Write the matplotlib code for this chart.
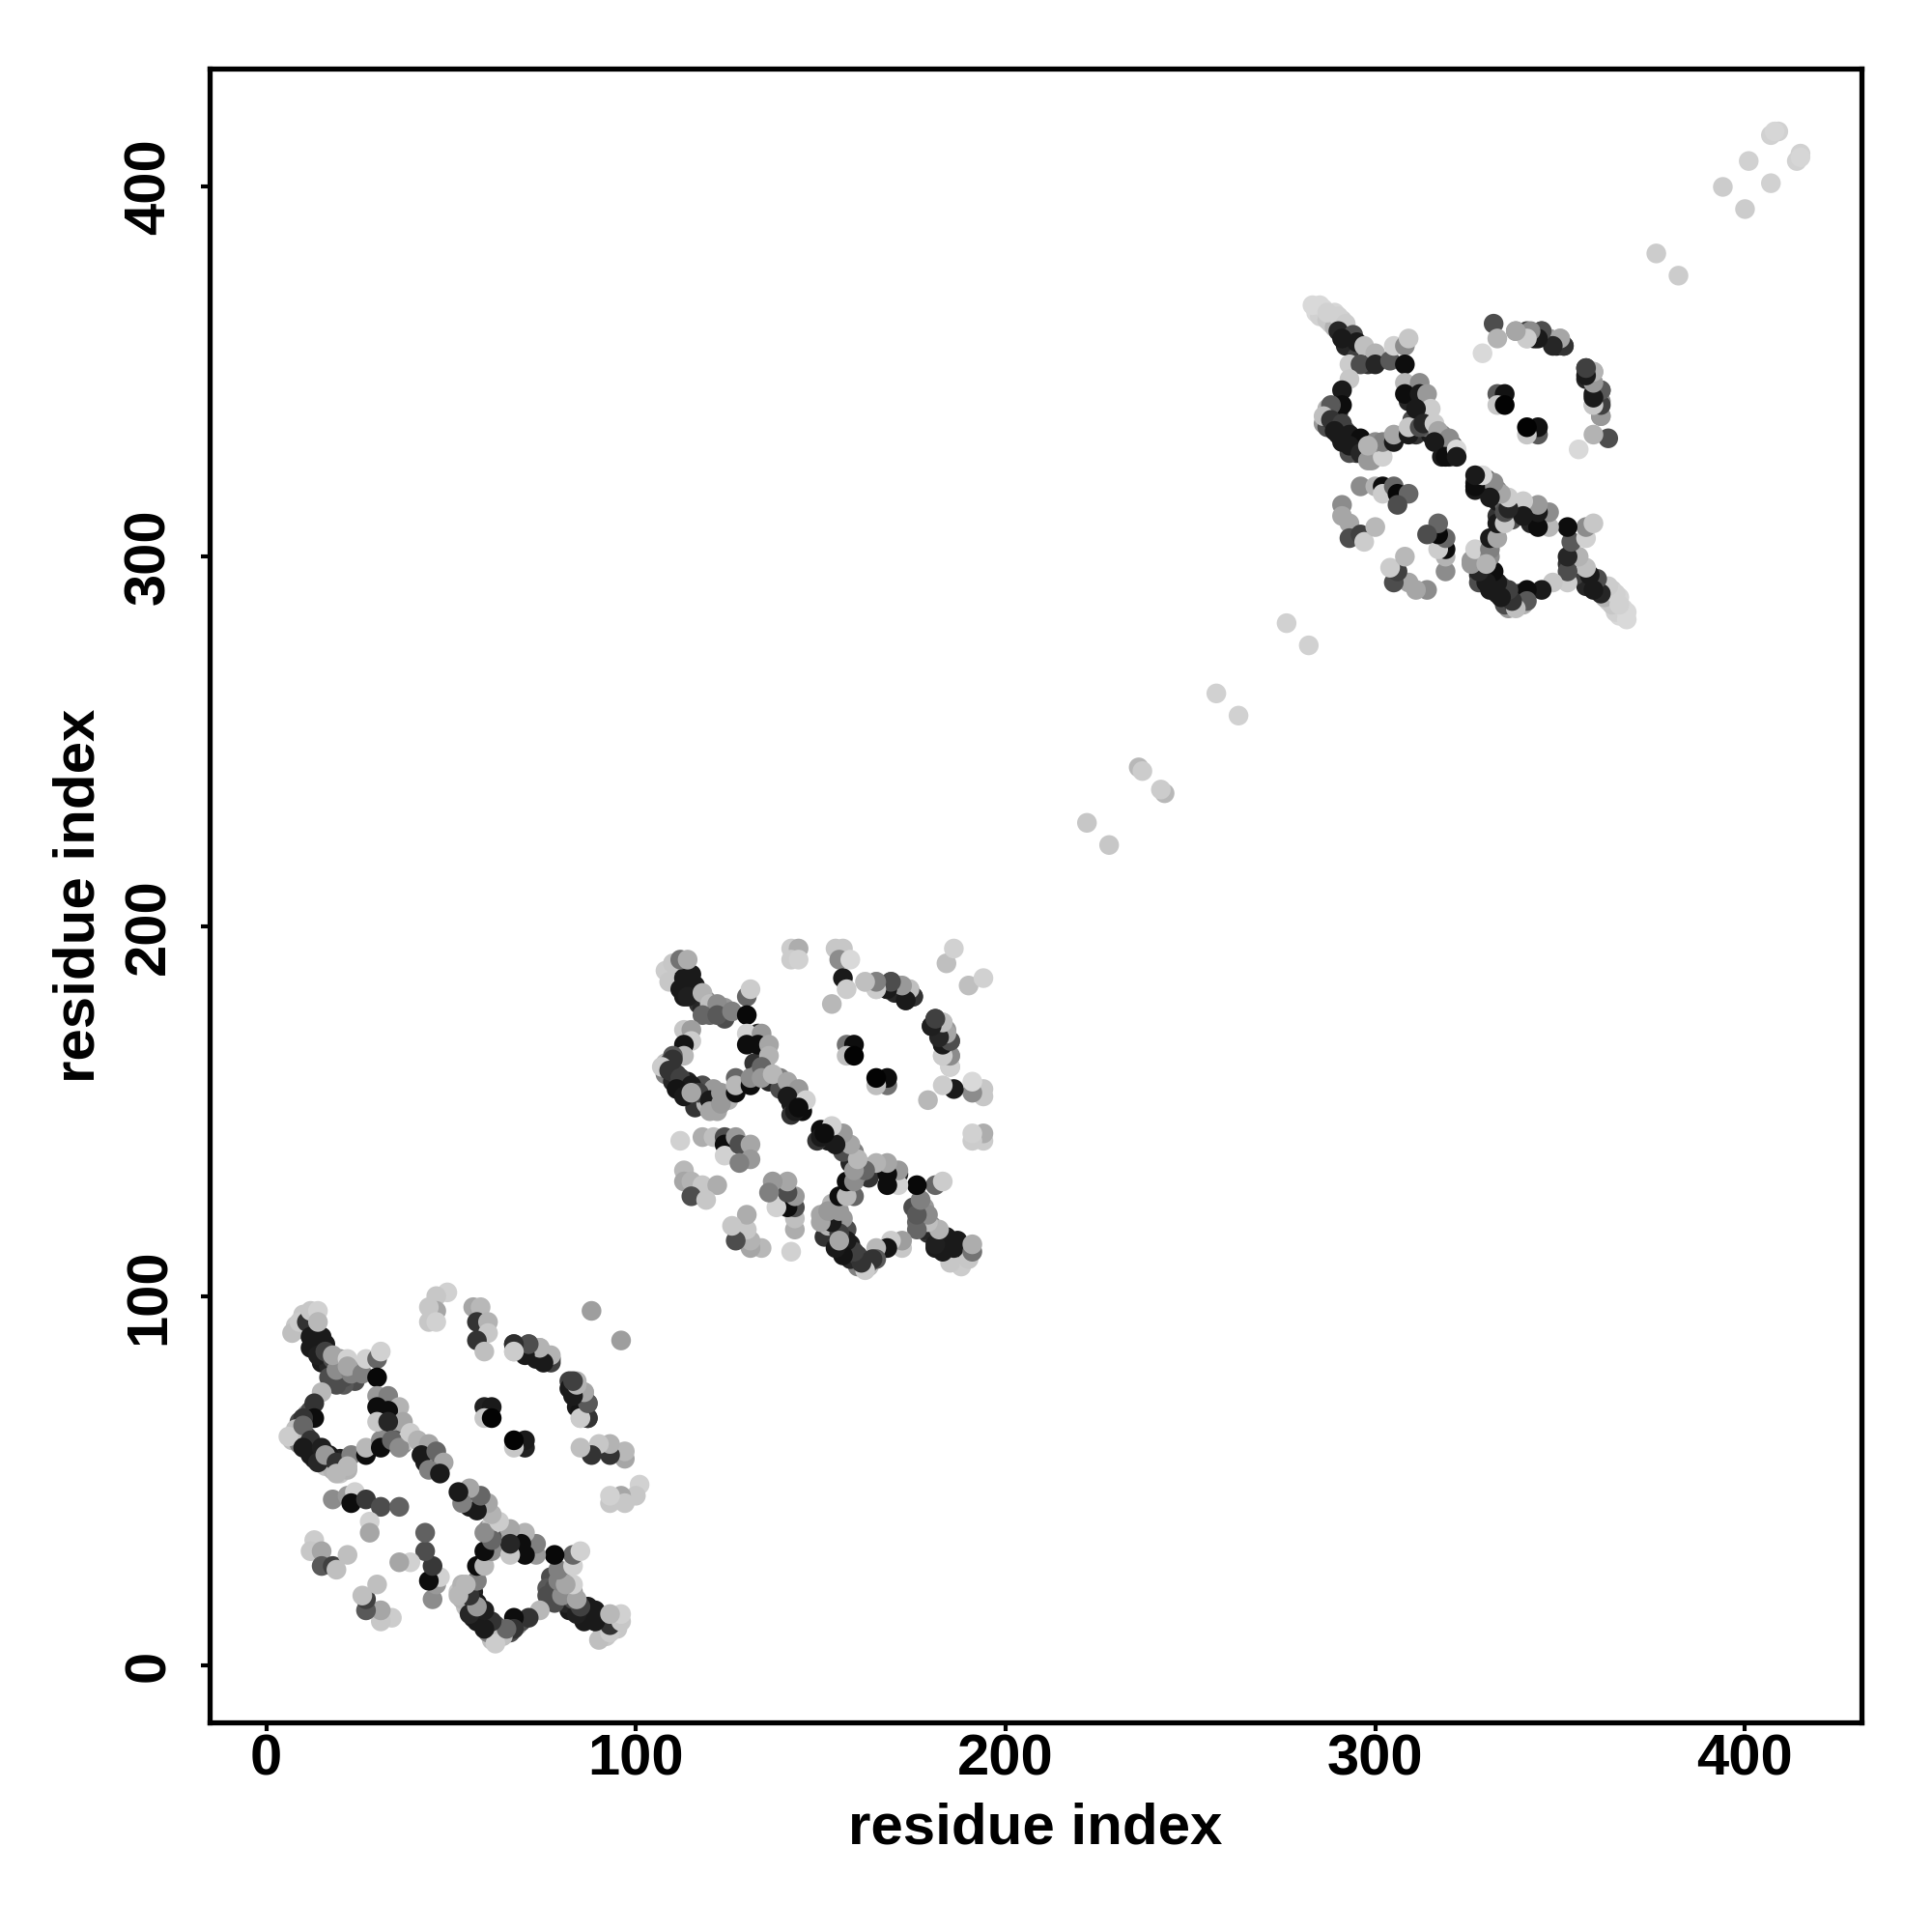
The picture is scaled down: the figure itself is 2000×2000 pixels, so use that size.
import matplotlib
matplotlib.use("Agg")
import matplotlib.pyplot as plt

plt.rcParams['font.family'] = ['Liberation Sans', 'DejaVu Sans']

# residue pairs (i, j) with contact grey level; every pair also appears mirrored as (j, i)
u1_i = [7, 8, 9, 11, 13, 13, 15, 16, 18, 20, 21, 20, 18, 11, 9, 9, 11, 12,
        8, 10, 10, 13, 12, 13, 15, 15, 17, 15, 17, 19, 20, 24, 21, 19, 24,
        31, 32, 31, 32, 34, 35, 36, 33, 35, 37, 38, 43, 43, 45, 44, 46, 42]
u1_j = [61, 62, 60, 59, 58, 56, 56, 54, 53, 52, 55, 56, 56, 62, 63, 66, 68, 69,
        92, 91, 95, 91, 92, 90, 89, 86, 84, 82, 81, 82, 83, 77, 76, 76, 80,
        72, 71, 68, 68, 67, 65, 63, 63, 61, 60, 61, 58, 55, 55, 56, 56, 60]
u1_g = [.75, .7, .5, .3, .2, .1, .3, .75, .7, .78, .2, .12, .15, .3, .4, .3, .55, .3,
        .78, .6, .78, .7, .2, .15, .1, .1, .12, .1, .15, .3, .6, .3, .35, .3, .55,
        .5, .7, .3, .15, .12, .6, .75, .6, .35, .55, .8, .2, .1, .15, .4, .6, .7]

c1_i = [7, 9, 11, 12, 14, 16, 12, 14, 16, 18, 17, 21, 19, 23, 12, 14, 14,
        18, 22, 22, 26, 27, 30, 31, 30,
        15, 13, 13, 10, 8, 6, 10, 12, 10, 12, 15, 17, 14, 16, 19, 22, 19, 23, 22, 27, 27, 31, 31,
        30, 33, 30, 36, 33, 37, 30, 33, 34, 36, 39, 41, 44, 42, 46, 46, 48, 44, 47,
        49, 46, 46, 44, 44, 46,
        56, 58, 57, 60, 60, 57, 59,
        67, 69, 67, 71, 74, 73, 76, 77,
        82, 84, 82, 86, 84, 87, 87, 85,
        59, 61, 59, 61, 88,
        18, 22, 24, 23, 27, 31, 36, 28, 28,
        13, 12, 15, 15, 18, 19, 22]
c1_j = [90, 93, 93, 89, 88, 87, 86, 84, 85, 83, 78, 78, 80, 79, 96, 96, 93,
        84, 83, 81, 79, 83, 83, 85, 78,
        74, 71, 67, 67, 64, 62, 65, 61, 59, 57, 59, 57, 55, 57, 55, 53, 52, 57, 54, 57, 59, 61, 59,
        73, 73, 70, 70, 69, 66, 66, 66, 61, 59, 63, 61, 60, 57, 58, 53, 55, 53, 52,
        101, 100, 96, 97, 93, 93,
        97, 97, 93, 93, 90, 88, 85,
        87, 85, 85, 87, 86, 83, 84, 83,
        77, 77, 75, 74, 70, 71, 67, 67,
        70, 70, 67, 67, 96,
        45, 46, 47, 44, 45, 43, 43, 39, 36,
        34, 31, 31, 27, 27, 26, 30]
c1_g = [.75, .8, .2, .1, .1, .1, .1, .12, .25, .3, .3, .3, .55, .5, .78, .82, .72,
        .65, .82, .65, .5, .82, .4, .82, .03,
        .72, .2, .05, .2, .75, .8, .4, .2, .1, .1, .12, .1, .15, .6, .2, .7, .72, .5, .72, .05, .72, .55, .05,
        .6, .5, .05, .7, .05, .65, .78, .15, .4, .55, .8, .7, .65, .1, .4, .2, .65, .5, .1,
        .82, .78, .65, .78, .78, .82,
        .65, .72, .2, .7, .78, .2, .75,
        .2, .08, .8, .35, .65, .1, .7, .25,
        .25, .7, .1, .7, .1, .3, .18, .8,
        .13, .1, .78, .01, .62,
        .55, .6, .82, .05, .22, .3, .38, .82, .65,
        .8, .78, .65, .35, .25, .75, .75]

u2_i = [109, 111, 111, 113, 115, 116, 113, 117, 119, 118, 120, 124, 124,
        108, 109, 108, 110, 111, 112, 114, 113, 116, 118, 118, 116, 119, 121, 122, 125, 127,
        131, 133, 134, 135, 132, 133, 136, 139, 139, 142, 142, 145, 142]
u2_j = [188, 188, 186, 184, 187, 182, 181, 179, 180, 178, 176, 178, 175,
        163, 163, 160, 158, 160, 156, 158, 156, 153, 157, 153, 151, 152, 156, 150, 153, 159,
        170, 171, 167, 164, 163, 160, 158, 159, 156, 156, 152, 150, 149]
u2_g = [.7, .7, .15, .1, .1, .1, .1, .2, .5, .15, .4, .6, .3,
        .75, .3, .5, .15, .25, .15, .12, .1, .15, .3, .1, .2, .7, .6, .65, .7, .4,
        .6, .15, .5, .15, .2, .55, .15, .5, .3, .1, .1, .05, .2]

c2_i = [108, 110, 109, 113, 112, 116, 114, 112, 114, 118, 120, 122, 118, 122, 126, 130, 131, 130,
        113, 115, 115, 113, 113, 110, 110, 107, 109, 112, 115, 111, 113, 117, 115, 120, 120, 123, 123, 127, 127, 131, 131,
        130, 134, 130, 133, 136, 136, 134, 134, 137, 141, 144, 141, 143, 146, 144,
        142, 144, 142, 144, 154, 156, 155, 158, 156, 157, 153,
        162, 165, 165, 168, 169, 171, 170, 174, 173, 175,
        181, 183, 180, 184, 183, 185, 183, 185, 185,
        157, 159, 157, 159, 184, 186,
        112, 118, 121, 124, 124, 124, 127, 128, 131, 131, 128,
        113, 113, 115, 118, 122, 115, 119]
c2_j = [188, 190, 185, 186, 183, 184, 181, 191, 191, 182, 179, 179, 176, 176, 177, 181, 183, 176,
        172, 172, 169, 168, 165, 165, 164, 162, 161, 159, 157, 156, 154, 155, 155, 153, 150, 155, 152, 155, 157, 157, 159,
        171, 171, 168, 168, 168, 165, 162, 159, 160, 158, 156, 154, 150, 153, 151,
        194, 194, 191, 191, 194, 194, 191, 191, 186, 183, 179,
        185, 185, 183, 183, 185, 184, 182, 183, 180, 181,
        175, 174, 173, 172, 168, 169, 165, 165, 162,
        168, 168, 165, 165, 190, 194,
        142, 143, 143, 143, 141, 138, 143, 141, 141, 137, 136,
        134, 131, 131, 130, 130, 127, 126]
c2_g = [.8, .78, .78, .1, .1, .1, .12, .45, .68, .7, .75, .55, .4, .35, .5, .4, .8, .03,
        .78, .62, .8, .08, .72, .35, .2, .8, .2, .25, .1, .08, .1, .25, .65, .1, .65, .6, .6, .05, .72, .05, .55,
        .82, .6, .05, .05, .65, .7, .4, .6, .72, .65, .6, .1, .1, .82, .05,
        .8, .68, .8, .82, .78, .78, .55, .85, .1, .8, .72,
        .82, .55, .8, .1, .3, .65, .15, .75, .12, .25,
        .2, .75, .1, .6, .1, .3, .8, .5, .75,
        .45, .05, .75, .01, .75, .82,
        .82, .68, .75, .3, .05, .82, .6, .3, .65, .6, .5,
        .72, .65, .7, .78, .68, .3, .78]

u3_i = [284, 286, 285, 288, 287, 289, 289, 291, 292, 293, 294, 292, 296, 295, 298, 298,
        287, 286, 287, 287, 290, 290, 291, 292, 294, 295, 293, 297, 297, 299, 299,
        310, 309, 311, 313, 310, 311, 315, 314, 317, 318, 320, 318, 320, 321]
u3_j = [366, 367, 365, 363, 364, 362, 366, 364, 361, 358, 356, 357, 355, 354, 354, 352,
        340, 336, 335, 338, 339, 333, 334, 334, 331, 328, 328, 330, 328, 329, 326,
        346, 342, 343, 341, 337, 333, 333, 335, 331, 333, 329, 327, 327, 330]
u3_g = [.85, .85, .82, .8, .78, .7, .84, .8, .2, .1, .1, .15, .2, .25, .7, .2,
        .7, .6, .3, .4, .2, .12, .4, .3, .1, .2, .3, .2, .6, .5, .6,
        .6, .15, .2, .3, .3, .2, .1, .4, .1, .5, .1, .1, .15, .3]

c3_i = [283, 285, 287, 290, 292, 290, 294, 291, 295, 297, 300, 293, 296, 300, 304, 305, 308, 309, 308,
        293, 291, 291, 288, 286, 288, 291, 289, 293, 291, 296, 293, 296, 298, 302, 300, 302, 305, 305, 309, 309, 298,
        308, 312, 308, 312, 314, 315, 311, 312, 313, 316, 317, 320, 316, 319, 322, 322,
        332, 333, 329, 338, 341, 341, 345, 343, 347, 350, 349, 351,
        357, 359, 357, 361, 359, 361, 359, 361,
        333, 335, 333, 335,
        296, 300, 302, 302, 305, 306, 309, 306,
        291, 291, 293, 293, 296, 297, 300]
c3_j = [368, 368, 366, 365, 363, 361, 360, 359, 358, 357, 355, 352, 352, 352, 353, 357, 357, 359, 352,
        348, 345, 341, 341, 338, 337, 336, 334, 333, 331, 332, 330, 328, 326, 327, 331, 331, 331, 333, 333, 335, 330,
        347, 347, 344, 344, 344, 340, 340, 335, 336, 336, 334, 332, 331, 327, 329, 327,
        363, 359, 355, 361, 361, 359, 361, 359, 359, 359, 357, 357,
        351, 350, 348, 345, 344, 342, 341, 338,
        344, 344, 341, 341,
        319, 319, 319, 317, 319, 317, 317, 314,
        314, 311, 309, 305, 306, 304, 308]
c3_g = [.85, .85, .82, .82, .8, .15, .3, .1, .1, .75, .7, .8, .3, .15, .35, .82, .55, .78, .05,
        .78, .1, .05, .35, .75, .2, .25, .1, .1, .1, .05, .1, .15, .6, .82, .55, .5, .1, .65, .1, .78, .7,
        .72, .55, .05, .1, .6, .8, .1, .3, .15, .8, .65, .55, .1, .05, .85, .1,
        .3, .7, .85, .6, .25, .78, .35, .1, .6, .7, .1, .25,
        .2, .65, .15, .3, .1, .55, .8, .65,
        .35, .07, .78, .01,
        .55, .7, .05, .8, .4, .03, .4, .3,
        .55, .65, .65, .3, .25, .8, .72]

sparse_i = [222, 236, 237, 257, 276, 376, 394, 401, 407, 409, 408]
sparse_j = [228, 243, 242, 263, 282, 382, 400, 407, 414, 415, 415]
sparse_g = [.78, .72, .8, .82, .82, .8, .8, .82, .82, .82, .84]

x_ticks = [0, 100, 200, 300, 400]
axis_label = "residue index"

fig = plt.figure(figsize=(10, 10), dpi=200)
ax = fig.add_axes([217 / 2000, 1 - 1783 / 2000, (1927 - 217) / 2000, (1783 - 71) / 2000])

for i_list, j_list, g_list in [(sparse_i, sparse_j, sparse_g),
                               (u1_i, u1_j, u1_g), (c1_i, c1_j, c1_g),
                               (u2_i, u2_j, u2_g), (c2_i, c2_j, c2_g),
                               (u3_i, u3_j, u3_g), (c3_i, c3_j, c3_g)]:
    colours = [str(v) for v in g_list]
    ax.scatter(i_list, j_list, s=54, c=colours, linewidths=0, zorder=2)
    ax.scatter(j_list, i_list, s=54, c=colours, linewidths=0, zorder=2)

ax.set_xlim(-15.3, 431.5)
ax.set_ylim(-15.3, 432)
ax.set_xticks(x_ticks)
ax.set_yticks(x_ticks)
ax.tick_params(axis='x', length=3.2, width=1.5, labelsize=21.5, pad=1)
ax.tick_params(axis='y', length=3.2, width=1.5, labelsize=21.5, pad=9.3)
for lab in ax.get_xticklabels() + ax.get_yticklabels():
    lab.set_fontweight('bold')
for lab in ax.get_yticklabels():
    lab.set_rotation(90)
    lab.set_va('center')
for spine in ax.spines.values():
    spine.set_linewidth(1.9)
ax.set_xlabel(axis_label, fontsize=21.6, fontweight='bold', labelpad=5.7)
ax.set_ylabel(axis_label, fontsize=21.6, fontweight='bold', labelpad=6.3)

fig.savefig("out.png", dpi=200)
